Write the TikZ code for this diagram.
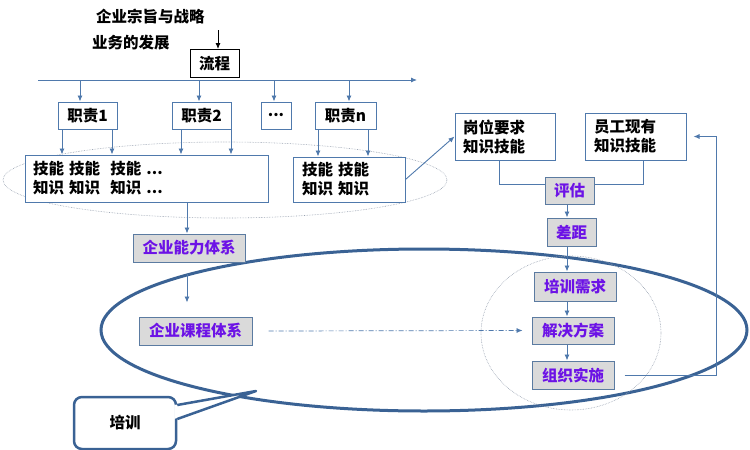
\documentclass[tikz,border=0pt]{standalone}
\usepackage{fontspec}
\setmainfont{Noto Sans CJK SC}
\usetikzlibrary{arrows.meta,calc}
\definecolor{lblue}{RGB}{79,121,172}
\definecolor{dblue}{RGB}{58,98,148}
\definecolor{vio}{RGB}{108,18,230}
\definecolor{gfill}{RGB}{218,218,218}
\definecolor{dotc}{RGB}{150,160,175}
\begin{document}
\begin{tikzpicture}[x=1pt,y=-1pt,
  every node/.style={font=\fontsize{15.5}{19}\selectfont\bfseries, inner sep=0pt},
  wbox/.style={draw=lblue, line width=1pt, fill=white},
  tbox/.style={wbox, align=left, inner xsep=8pt},
  gbox/.style={draw=lblue!75!gray, line width=1pt, fill=gfill, text=vio},
  arr/.style={draw=lblue, line width=0.9pt, -{Latex[length=6pt,width=5pt]}},
  conn/.style={draw=lblue, line width=0.9pt},
  dotell/.style={draw=dotc, line width=0.6pt, densely dotted},
]
\useasboundingbox (0,0) rectangle (750,450);

% big ellipses
\draw[dblue, line width=3pt] (424,330) ellipse [x radius=323pt, y radius=81pt];
\draw[dotell] (225,180) ellipse [x radius=222pt, y radius=38pt];
\draw[dotell] (571,333) ellipse [x radius=90pt, y radius=77pt];

% top texts
\node[anchor=west] (goal) at (96,16) {企业宗旨与战略};
\node[anchor=west] (biz) at (92,43) {业务的发展};

% flow
\node[draw=black, line width=1pt, fill=white, minimum width=49pt, minimum height=28pt] (flow) at (214.5,63.5) {流程};
\coordinate (ftop) at (218,30);
\draw[black, line width=0.9pt, -{Latex[length=6pt,width=5pt]}] (ftop) -- (ftop |- flow.north);

% horizontal process line
\coordinate (hl0) at (38,80);
\coordinate (hl1) at (417,80);
\draw[arr] (hl0) -- (hl1);

% duty boxes
\node[wbox, minimum width=59pt, minimum height=27pt] (d1) at (87.5,115.5) {职责1};
\node[wbox, minimum width=59pt, minimum height=27pt] (d2) at (201.5,115.5) {职责2};
\node[wbox, minimum width=30pt, minimum height=27pt] (dd) at (276,115.5) {...};
\node[wbox, minimum width=61pt, minimum height=27pt] (dn) at (345.5,115.5) {职责n};

\draw[arr] ([xshift=-7.5pt]d1.north |- hl0) -- ([xshift=-7.5pt]d1.north);
\draw[arr] ([xshift=-2.5pt]d2.north |- hl0) -- ([xshift=-2.5pt]d2.north);
\draw[arr] ([xshift=-2pt]dd.north |- hl0) -- ([xshift=-2pt]dd.north);
\draw[arr] ([xshift=3.5pt]dn.north |- hl0) -- ([xshift=3.5pt]dn.north);

% skill boxes
\node[tbox, text width=227pt, minimum height=47pt] (sk1) at (146.5,178.5) {技能 技能\hspace{5pt} 技能 ...\\知识 知识\hspace{5pt} 知识 ...};
\node[tbox, inner xsep=9pt, text width=94pt, minimum height=45pt] (sk2) at (349,179.5) {技能 技能\\知识 知识};

\draw[arr] ([xshift=-25.5pt]d1.south) -- ([xshift=-25.5pt]d1.south |- sk1.north);
\draw[arr] ([xshift=24.5pt]d1.south) -- ([xshift=24.5pt]d1.south |- sk1.north);
\draw[arr] ([xshift=-20.5pt]d2.south) -- ([xshift=-20.5pt]d2.south |- sk1.north);
\draw[arr] ([xshift=29.5pt]d2.south) -- ([xshift=29.5pt]d2.south |- sk1.north);
\draw[arr] ([xshift=-27.5pt]dn.south) -- ([xshift=-27.5pt]dn.south |- sk2.north);
\draw[arr] ([xshift=22.5pt]dn.south) -- ([xshift=22.5pt]dn.south |- sk2.north);

% right top boxes
\node[tbox, text width=84pt, minimum height=47pt] (req) at (505,136.5) {岗位要求\\知识技能};
\node[tbox, inner xsep=9pt, text width=83pt, minimum height=47pt] (emp) at (635.5,136.5) {员工现有\\知识技能};
\draw[arr] (sk2.east) -- (req.west);

% gray boxes
\node[gbox, minimum width=49pt, minimum height=27pt] (eval) at (569.5,190.5) {评估};
\node[gbox, minimum width=49pt, minimum height=28pt] (gap) at (571.5,232) {差距};
\node[gbox, minimum width=82pt, minimum height=29pt] (need) at (575,286.5) {培训需求};
\node[gbox, minimum width=82pt, minimum height=27pt] (sol) at (573,330.5) {解决方案};
\node[gbox, minimum width=82pt, minimum height=28pt] (impl) at (573,375) {组织实施};
\node[gbox, minimum width=112pt, minimum height=28pt] (cap) at (189,248) {企业能力体系};
\node[gbox, minimum width=113pt, minimum height=28pt] (course) at (195.5,331) {企业课程体系};

\coordinate (rx) at (499,0);
\coordinate (ex) at (643,0);
\coordinate (hy) at (0,184);
\coordinate (vx) at (567,0);
\coordinate (cx) at (187,0);
\draw[conn] (req.south -| rx) |- (eval.west |- hy);
\draw[conn] (emp.south -| ex) |- (eval.east |- hy);
\draw[arr] (eval.south -| vx) -- (gap.north -| vx);
\draw[arr] (gap.south -| vx) -- (need.north -| vx);
\draw[arr] (need.south -| vx) -- (sol.north -| vx);
\draw[arr] (sol.south -| vx) -- (impl.north -| vx);

\draw[arr] (sk1.south -| cx) -- (cap.north -| cx);
\draw[arr] ([xshift=-2pt,yshift=-11pt]cap.south) -- ([xshift=-2pt,yshift=14pt]cap.south |- course.north);
\draw[arr, line width=0.7pt, dash pattern=on 5pt off 2pt on 1pt off 2pt] ([xshift=16pt]course.east) -- ([xshift=-9pt]sol.west);

% feedback
\draw[arr] ([xshift=10pt]impl.east) -| ([xshift=30pt]emp.east) -- ([xshift=7pt]emp.east);

% callout
\node[draw=dblue, line width=2.5pt, rounded corners=8pt, fill=white, minimum width=102pt, minimum height=52pt] (train) at (125,423) {培训};
\coordinate (tip) at (256,391);
\fill[white] ([shift={(-3pt,18pt)}]train.east) -- (tip) -- ([shift={(-3pt,4pt)}]train.east) -- cycle;
\draw[dblue, line width=2.5pt, line join=round] ([yshift=18pt]train.east) -- (tip) -- ([yshift=4pt]train.east);
\end{tikzpicture}
\end{document}
